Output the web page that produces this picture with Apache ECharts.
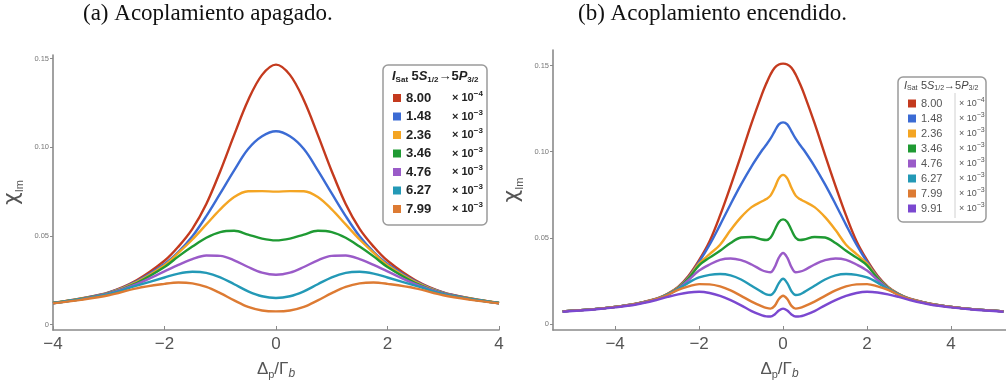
<!DOCTYPE html>
<html><head><meta charset="utf-8">
<script src="https://cdn.jsdelivr.net/npm/echarts@6/dist/echarts.min.js"></script>
<style>html,body{margin:0;padding:0;background:#fff}#c{width:1006px;height:385px}</style>
</head><body><div id="c"></div>
<script>
// ---- Data ----
const xA = [-4,-3.5,-3,-2.5,-2,-1.75,-1.5,-1.25,-1,-0.75,-0.5,-0.25,0,0.25,0.5,0.75,1,1.25,1.5,1.75,2,2.5,3,3.5,4];
const redA    = [0.0122,0.0148,0.0182,0.0250,0.0360,0.0440,0.0540,0.0680,0.0865,0.1070,0.1265,0.1408,0.1466,0.1408,0.1265,0.1070,0.0865,0.0680,0.0540,0.0440,0.0360,0.0250,0.0182,0.0148,0.0122];
const blueA   = [0.0122,0.0147,0.0180,0.0245,0.0342,0.0410,0.0498,0.0612,0.0740,0.0870,0.0990,0.1062,0.1090,0.1062,0.0990,0.0870,0.0740,0.0612,0.0498,0.0410,0.0342,0.0245,0.0180,0.0147,0.0122];
const yellowA = [0.0122,0.0146,0.0178,0.0240,0.0335,0.0405,0.0480,0.0565,0.0650,0.0720,0.0752,0.0753,0.0750,0.0753,0.0752,0.0720,0.0650,0.0565,0.0480,0.0405,0.0335,0.0240,0.0178,0.0146,0.0122];
const greenA  = [0.0122,0.0145,0.0176,0.0235,0.0325,0.0385,0.0440,0.0490,0.0522,0.0529,0.0508,0.0485,0.0475,0.0485,0.0508,0.0529,0.0522,0.0490,0.0440,0.0385,0.0325,0.0235,0.0176,0.0145,0.0122];
const purpleA = [0.0121,0.0144,0.0175,0.0228,0.0300,0.0337,0.0370,0.0390,0.0388,0.0363,0.0325,0.0293,0.0281,0.0293,0.0325,0.0363,0.0388,0.0390,0.0370,0.0337,0.0300,0.0228,0.0175,0.0144,0.0121];
const cyanA   = [0.0121,0.0143,0.0172,0.0220,0.0266,0.0288,0.0298,0.0292,0.0267,0.0228,0.0188,0.0160,0.0150,0.0160,0.0188,0.0228,0.0267,0.0292,0.0298,0.0288,0.0266,0.0220,0.0172,0.0143,0.0121];
const orangeA = [0.0120,0.0140,0.0166,0.0205,0.0230,0.0238,0.0233,0.0213,0.0178,0.0137,0.0100,0.0080,0.0075,0.0080,0.0100,0.0137,0.0178,0.0213,0.0233,0.0238,0.0230,0.0205,0.0166,0.0140,0.0120];

const xB = [-5.25,-4.5,-4,-3.5,-3,-2.75,-2.5,-2.25,-2,-1.75,-1.5,-1.25,-1,-0.75,-0.5,-0.4,-0.3,-0.2,-0.1,0,0.1,0.2,0.3,0.4,0.5,0.75,1,1.25,1.5,1.75,2,2.25,2.5,2.75,3,3.5,4,4.5,5.25];
const redB    = [0.0073,0.0086,0.0099,0.0118,0.0148,0.0175,0.0215,0.0280,0.0370,0.0480,0.0630,0.0800,0.0980,0.1165,0.1335,0.1395,0.1448,0.1487,0.1506,0.1511,0.1506,0.1487,0.1448,0.1395,0.1335,0.1165,0.0980,0.0800,0.0630,0.0480,0.0370,0.0280,0.0215,0.0175,0.0148,0.0118,0.0099,0.0086,0.0073];
const blueB   = [0.0073,0.0086,0.0099,0.0118,0.0147,0.0174,0.0212,0.0272,0.0360,0.0460,0.0575,0.0695,0.0810,0.0915,0.1008,0.1040,0.1075,0.1118,0.1158,0.1170,0.1158,0.1118,0.1075,0.1040,0.1008,0.0915,0.0810,0.0695,0.0575,0.0460,0.0360,0.0272,0.0212,0.0174,0.0147,0.0118,0.0099,0.0086,0.0073];
const yellowB = [0.0073,0.0086,0.0099,0.0118,0.0147,0.0173,0.0210,0.0268,0.0350,0.0405,0.0460,0.0545,0.0620,0.0678,0.0712,0.0725,0.0745,0.0790,0.0845,0.0865,0.0845,0.0790,0.0745,0.0725,0.0712,0.0678,0.0620,0.0545,0.0460,0.0405,0.0350,0.0268,0.0210,0.0173,0.0147,0.0118,0.0099,0.0086,0.0073];
const greenB  = [0.0073,0.0086,0.0099,0.0117,0.0146,0.0172,0.0208,0.0265,0.0340,0.0385,0.0425,0.0470,0.0502,0.0505,0.0490,0.0487,0.0500,0.0545,0.0592,0.0607,0.0592,0.0545,0.0500,0.0487,0.0490,0.0505,0.0502,0.0470,0.0425,0.0385,0.0340,0.0265,0.0208,0.0172,0.0146,0.0117,0.0099,0.0086,0.0073];
const purpleB = [0.0073,0.0086,0.0099,0.0117,0.0146,0.0171,0.0205,0.0255,0.0310,0.0345,0.0372,0.0380,0.0370,0.0345,0.0312,0.0304,0.0300,0.0330,0.0385,0.0412,0.0385,0.0330,0.0300,0.0304,0.0312,0.0345,0.0370,0.0380,0.0372,0.0345,0.0310,0.0255,0.0205,0.0171,0.0146,0.0117,0.0099,0.0086,0.0073];
const cyanB   = [0.0073,0.0086,0.0099,0.0117,0.0146,0.0170,0.0202,0.0240,0.0270,0.0285,0.0290,0.0282,0.0258,0.0222,0.0185,0.0172,0.0168,0.0190,0.0237,0.0262,0.0237,0.0190,0.0168,0.0172,0.0185,0.0222,0.0258,0.0282,0.0290,0.0285,0.0270,0.0240,0.0202,0.0170,0.0146,0.0117,0.0099,0.0086,0.0073];
const orangeB = [0.0073,0.0086,0.0099,0.0116,0.0145,0.0168,0.0198,0.0218,0.0231,0.0230,0.0218,0.0195,0.0163,0.0130,0.0102,0.0093,0.0089,0.0105,0.0145,0.0164,0.0145,0.0105,0.0089,0.0093,0.0102,0.0130,0.0163,0.0195,0.0218,0.0230,0.0231,0.0218,0.0198,0.0168,0.0145,0.0116,0.0099,0.0086,0.0073];
const violetB = [0.0071,0.0084,0.0096,0.0113,0.0140,0.0157,0.0172,0.0183,0.0187,0.0180,0.0163,0.0138,0.0108,0.0075,0.0050,0.0044,0.0043,0.0055,0.0078,0.0089,0.0078,0.0055,0.0043,0.0044,0.0050,0.0075,0.0108,0.0138,0.0163,0.0180,0.0187,0.0183,0.0172,0.0157,0.0140,0.0113,0.0096,0.0084,0.0071];

const legendValsA = ['8.00','1.48','2.36','3.46','4.76','6.27','7.99'];
const legendExpA  = ['-4','-3','-3','-3','-3','-3','-3'];
const legendValsB = ['8.00','1.48','2.36','3.46','4.76','6.27','7.99','9.91'];
const legendExpB  = ['-4','-3','-3','-3','-3','-3','-3','-3'];
const xTicks = [-4,-2,0,2,4];
const yTicks = [0,0.05,0.10,0.15];
const titleA = '(a) Acoplamiento apagado.';
const titleB = '(b) Acoplamiento encendido.';

// ---- Styles ----
const colorsA = ['#c43a1e','#3b6bd4','#f4a523','#1f9a33','#9a5bc8','#2399b6','#dd7b33'];
const colorsB = ['#c43a1e','#3b6bd4','#f4a523','#1f9a33','#9a5bc8','#2399b6','#dd7b33','#7b48d0'];
const seriesA = [redA,blueA,yellowA,greenA,purpleA,cyanA,orangeA];
const seriesB = [redB,blueB,yellowB,greenB,purpleB,cyanB,orangeB,violetB];

const SANS = 'Liberation Sans, Arial, sans-serif';
const axisGray = '#8a8a8a';

function xAxisCfg(gi, min, max){
  return {
    type:'value', gridIndex:gi, min:min, max:max,
    axisLine:{show:true, onZero:false, lineStyle:{color:axisGray, width:1.6}},
    axisTick:{show:true, inside:true, length:4, customValues:xTicks, lineStyle:{color:axisGray}},
    axisLabel:{customValues:xTicks, color:'#555', fontFamily:SANS, fontSize:17, margin:6,
      formatter:v=> (v<0?'\u2212'+Math.abs(v):String(v))},
    splitLine:{show:false},
    name:'{d|\u0394}{s|p}{d|/\u0393}{b|b}', nameLocation:'middle', nameGap:28,
    nameTextStyle:{color:'#555', fontFamily:SANS, rich:{
      d:{fontSize:17, color:'#555', fontFamily:SANS, lineHeight:22},
      s:{fontSize:11, color:'#555', fontFamily:SANS, verticalAlign:'bottom', lineHeight:18},
      b:{fontSize:12, color:'#555', fontFamily:SANS, fontStyle:'italic', verticalAlign:'bottom', lineHeight:18}
    }}
  };
}
function yAxisCfg(gi, min, max){
  return {
    type:'value', gridIndex:gi, min:min, max:max,
    axisLine:{show:true, onZero:false, lineStyle:{color:axisGray, width:1.6}},
    axisTick:{show:true, inside:false, length:3, customValues:yTicks, lineStyle:{color:axisGray}},
    axisLabel:{customValues:yTicks, color:'#777', fontFamily:SANS, fontSize:7.5, margin:4,
      formatter:v=> (v===0?'0':v.toFixed(2))},
    splitLine:{show:false},
    name:'{c|\u03c7}{s|Im}', nameLocation:'middle', nameGap:28, nameRotate:90,
    nameTextStyle:{rich:{
      c:{fontSize:22, color:'#555', fontFamily:'DejaVu Sans, sans-serif', lineHeight:26},
      s:{fontSize:11, color:'#555', fontFamily:SANS, verticalAlign:'bottom', lineHeight:20}
    }}
  };
}

const series = [];
seriesA.forEach((arr,i)=>{
  series.push({type:'line', name:'a|'+i, xAxisIndex:0, yAxisIndex:0, showSymbol:false, smooth:0.35,
    data:xA.map((x,k)=>[x,arr[k]]), lineStyle:{width:2.4, color:colorsA[i]}, itemStyle:{color:colorsA[i]}, z:2+i});
});
seriesB.forEach((arr,i)=>{
  series.push({type:'line', name:'b|'+i, xAxisIndex:1, yAxisIndex:1, showSymbol:false, smooth:0.35,
    data:xB.map((x,k)=>[x,arr[k]]), lineStyle:{width:2.4, color:colorsB[i]}, itemStyle:{color:colorsB[i]}, z:2+i});
});

function legendFmt(name){
  const p = name.split('|'); const i = +p[1];
  if (p[0]==='a') return '{v|'+legendValsA[i]+'}{x|\u00d7 10}{e|'+legendExpA[i].replace('-','\u2212')+'}';
  return '{v|'+legendValsB[i]+'}{x|\u00d7 10}{e|'+legendExpB[i].replace('-','\u2212')+'}';
}

const chart = echarts.init(document.getElementById('c'), null, {renderer:'canvas'});
chart.setOption({
  animation:false,
  backgroundColor:'#fff',
  grid:[
    {left:46, top:55, width:453, height:276},
    {left:553, top:50, right:0, height:283}
  ],
  xAxis:[ xAxisCfg(0,-4,4), xAxisCfg(1,-5.48,5.31) ],
  yAxis:[ yAxisCfg(0,-0.003,0.152), yAxisCfg(1,-0.0035,0.159) ],
  legend:[
    {data:legendValsA.map((v,i)=>'a|'+i), left:388, top:85, orient:'vertical', icon:'rect', z:40,
     itemWidth:8, itemHeight:8, itemGap:4, selectedMode:false, formatter:legendFmt,
     textStyle:{rich:{
       v:{fontFamily:SANS, fontWeight:'bold', fontSize:13, color:'#222', width:46, lineHeight:16},
       x:{fontFamily:SANS, fontWeight:'bold', fontSize:11, color:'#222', lineHeight:16},
       e:{fontFamily:SANS, fontWeight:'bold', fontSize:8, color:'#222', verticalAlign:'top', lineHeight:16}
     }}},
    {data:legendValsB.map((v,i)=>'b|'+i), left:903, top:92, orient:'vertical', icon:'rect', z:40,
     itemWidth:8, itemHeight:8, itemGap:3, selectedMode:false, formatter:legendFmt,
     textStyle:{rich:{
       v:{fontFamily:SANS, fontSize:11, color:'#555', width:38, lineHeight:13},
       x:{fontFamily:SANS, fontSize:9, color:'#555', lineHeight:13},
       e:{fontFamily:SANS, fontSize:7, color:'#555', verticalAlign:'top', lineHeight:13}
     }}}
  ],
  graphic:[
    {type:'text', left:83, top:2, style:{text:titleA, font:'23px "Liberation Serif", serif', fill:'#111'}},
    {type:'text', left:578, top:2, style:{text:titleB, font:'23px "Liberation Serif", serif', fill:'#111'}},
    {type:'rect', shape:{x:383, y:65, width:104, height:160, r:5}, style:{fill:'#fff', stroke:'#9a9a9a', lineWidth:1.5}, z:20},
    {type:'rect', shape:{x:898, y:77, width:88, height:145, r:5}, style:{fill:'#fff', stroke:'#9a9a9a', lineWidth:1.5}, z:20},
    {type:'line', shape:{x1:955, y1:93, x2:955, y2:218}, style:{stroke:'#d0d0d0', lineWidth:1}, z:21},
    {type:'text', x:392, y:68, z:60, style:{
      text:'{i|I}{s|Sat} {n|5}{i|S}{s|1/2}{n|\u21925}{i|P}{s|3/2}',
      rich:{
        i:{fontFamily:SANS, fontWeight:'bold', fontStyle:'italic', fontSize:13, fill:'#222', lineHeight:16},
        n:{fontFamily:SANS, fontWeight:'bold', fontSize:13, fill:'#222', lineHeight:16},
        s:{fontFamily:SANS, fontWeight:'bold', fontSize:8, fill:'#222', verticalAlign:'bottom', lineHeight:16}
      }}},
    {type:'text', x:904, y:79, z:60, style:{
      text:'{i|I}{s|Sat} {n|5}{i|S}{s|1/2}{n|\u21925}{i|P}{s|3/2}',
      rich:{
        i:{fontFamily:SANS, fontStyle:'italic', fontSize:11, fill:'#444', lineHeight:13},
        n:{fontFamily:SANS, fontSize:11, fill:'#444', lineHeight:13},
        s:{fontFamily:SANS, fontSize:7, fill:'#444', verticalAlign:'bottom', lineHeight:13}
      }}}
  ],
  series:series
});
</script></body></html>
